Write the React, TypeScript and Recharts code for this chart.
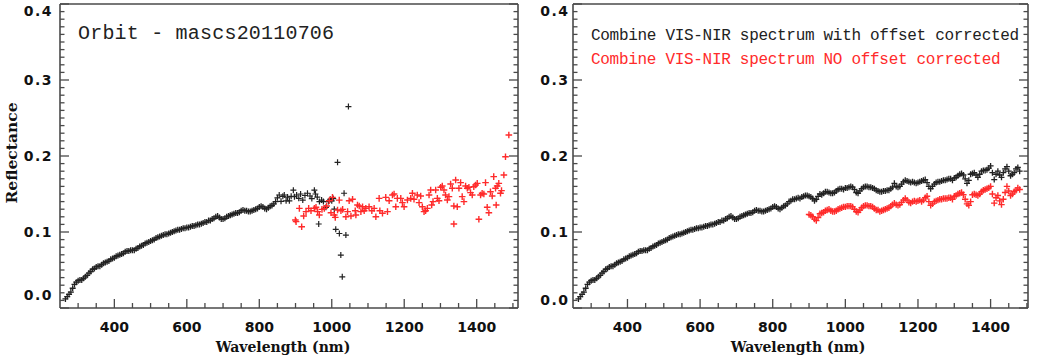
import React from 'react';
import { ScatterChart, Scatter, XAxis, YAxis } from 'recharts';

// ---------- tick values / labels ----------
const X_TICKS = [300, 350, 400, 450, 500, 550, 600, 650, 700, 750, 800, 850, 900, 950, 1000, 1050, 1100, 1150, 1200, 1250, 1300, 1350, 1400, 1450, 1500];
const X_LABELED = [400, 600, 800, 1000, 1200, 1400];
const Y_TICKS = [0, 0.01, 0.02, 0.03, 0.04, 0.05, 0.06, 0.07, 0.08, 0.09, 0.1, 0.11, 0.12, 0.13, 0.14, 0.15, 0.16, 0.17, 0.18, 0.19, 0.2, 0.21, 0.22, 0.23, 0.24, 0.25, 0.26, 0.27, 0.28, 0.29, 0.3, 0.31, 0.32, 0.33, 0.34, 0.35, 0.36, 0.37, 0.38, 0.39, 0.4];
const Y_LABELED = [0, 0.1, 0.2, 0.3, 0.4];
const Y_LABEL_TEXT = ['0.0', '0.1', '0.2', '0.3', '0.4'];

const TITLE_LEFT = 'Orbit - mascs20110706';
const LEGEND_BLACK = 'Combine VIS-NIR spectrum with offset corrected';
const LEGEND_RED = 'Combine VIS-NIR spectrum NO offset corrected';
const X_TITLE = 'Wavelength (nm)';
const Y_TITLE = 'Reflectance';

// ---------- data: [wavelength nm, reflectance] ----------
const visSpectrum: number[][] = [
  [265, 0.012], [270, 0.015], [275, 0.018], [280, 0.021], [285, 0.026], [290, 0.031], [295, 0.034], [300, 0.036],
  [305, 0.037], [310, 0.037], [315, 0.039], [320, 0.041], [325, 0.043], [330, 0.046], [335, 0.048], [340, 0.051],
  [345, 0.052], [350, 0.054], [355, 0.055], [360, 0.055], [365, 0.057], [370, 0.059], [375, 0.06], [380, 0.061],
  [385, 0.062], [390, 0.064], [395, 0.065], [400, 0.066], [405, 0.068], [410, 0.069], [415, 0.07], [420, 0.071],
  [425, 0.072], [430, 0.074], [435, 0.075], [440, 0.075], [445, 0.076], [450, 0.076], [455, 0.076], [460, 0.078],
  [465, 0.079], [470, 0.081], [475, 0.082], [480, 0.083], [485, 0.085], [490, 0.086], [495, 0.087], [500, 0.088],
  [505, 0.089], [510, 0.09], [515, 0.092], [520, 0.093], [525, 0.094], [530, 0.095], [535, 0.096], [540, 0.097],
  [545, 0.097], [550, 0.098], [555, 0.099], [560, 0.1], [565, 0.101], [570, 0.102], [575, 0.103], [580, 0.103],
  [585, 0.104], [590, 0.105], [595, 0.105], [600, 0.106], [605, 0.106], [610, 0.107], [615, 0.108], [620, 0.108],
  [625, 0.109], [630, 0.11], [635, 0.11], [640, 0.111], [645, 0.112], [650, 0.113], [655, 0.113], [660, 0.115],
  [665, 0.115], [670, 0.117], [675, 0.118], [680, 0.12], [685, 0.121], [690, 0.119], [695, 0.117], [700, 0.117],
  [705, 0.118], [710, 0.12], [715, 0.121], [720, 0.122], [725, 0.123], [730, 0.124], [735, 0.125], [740, 0.125],
  [745, 0.126], [750, 0.128], [755, 0.129], [760, 0.128], [765, 0.128], [770, 0.127], [775, 0.127], [780, 0.128],
  [785, 0.129], [790, 0.13], [795, 0.131], [800, 0.133], [805, 0.134], [810, 0.133], [815, 0.131], [820, 0.13],
  [825, 0.132], [830, 0.134], [835, 0.135], [840, 0.137], [845, 0.14],
];

const visTailRaw: number[][] = [
  [850, 0.145], [855, 0.1487], [860, 0.1404], [865, 0.147], [869, 0.1487], [874, 0.141], [878, 0.146], [883, 0.141],
  [888, 0.147], [894, 0.155], [897, 0.1465], [903, 0.1487], [909, 0.1443], [914, 0.15], [920, 0.142], [926, 0.148],
  [933, 0.151], [940, 0.1474], [945, 0.144], [952, 0.155], [955, 0.15], [960, 0.146], [964, 0.1105], [966, 0.14],
  [972, 0.142], [977, 0.14], [984, 0.1325], [991, 0.14], [996, 0.143], [1000, 0.141], [1004, 0.144], [1007, 0.13],
  [1011, 0.1035], [1016, 0.1917], [1021, 0.098], [1025, 0.0697], [1029, 0.041], [1034, 0.151], [1039, 0.096], [1046, 0.265],
];

const nirRaw: number[][] = [
  [899.6, 0.1158], [901.5, 0.1136], [917, 0.107], [910.6, 0.1311], [922.5, 0.121], [929, 0.1268], [936.3, 0.1311], [942.7, 0.128],
  [952, 0.1311], [956.5, 0.1325], [961, 0.1268], [965.7, 0.1224], [973, 0.1298], [979.4, 0.1311], [985.9, 0.1342], [993, 0.1412],
  [1002, 0.1456], [997.8, 0.1254], [1007, 0.1224], [1009.7, 0.1193], [1016, 0.129], [1020.7, 0.142], [1025.3, 0.128], [1030, 0.1298],
  [1039, 0.12], [1043.7, 0.1268], [1048, 0.1412], [1053, 0.121], [1057.4, 0.143], [1064.8, 0.128], [1066.6, 0.1224], [1071, 0.1355],
  [1075.8, 0.1342], [1080.4, 0.1268], [1085, 0.1333], [1089.5, 0.128], [1094, 0.1311], [1103, 0.1333], [1110.6, 0.128], [1117, 0.1311],
  [1121.7, 0.12], [1130.8, 0.1443], [1132.7, 0.128], [1140, 0.1246], [1149, 0.1456], [1153.8, 0.1268], [1158.4, 0.1412], [1167.5, 0.1487],
  [1172, 0.15], [1176.7, 0.1333], [1181, 0.1443], [1190.5, 0.1443], [1195, 0.1386], [1199.6, 0.1333], [1208.8, 0.1421], [1218, 0.1443],
  [1222.6, 0.1509], [1227, 0.143], [1236, 0.1487], [1241, 0.1386], [1245.5, 0.1474], [1250, 0.1333], [1254.7, 0.1268], [1259, 0.128],
  [1263.9, 0.1311], [1268.5, 0.1487], [1273, 0.1553], [1275.8, 0.1355], [1279.5, 0.14], [1286.8, 0.1553], [1291.4, 0.1443], [1296, 0.1412],
  [1300.6, 0.1588], [1305, 0.1605], [1309.7, 0.1553], [1314, 0.1487], [1319, 0.1421], [1323.5, 0.1465], [1328, 0.1632], [1332.7, 0.1575],
  [1337, 0.1342], [1337, 0.1105], [1341.9, 0.1684], [1346.4, 0.1333], [1351, 0.1575], [1355.6, 0.165], [1360, 0.1465], [1364.8, 0.14],
  [1369.4, 0.1605], [1374, 0.1575], [1378.6, 0.1588], [1383, 0.1518], [1387.7, 0.1487], [1392, 0.1596], [1397, 0.1618], [1401.5, 0.164],
  [1406, 0.1167], [1410.7, 0.1487], [1415, 0.1509], [1419.8, 0.15], [1424.4, 0.165], [1429, 0.1325], [1433.6, 0.1254], [1438, 0.153],
  [1442.8, 0.1474], [1447, 0.1728], [1452, 0.1575], [1453.8, 0.1355], [1456.5, 0.1605], [1461, 0.164], [1465.7, 0.1509], [1468.5, 0.1544],
  [1475, 0.175], [1479.5, 0.1991], [1488.7, 0.2276],
];

const nirCorrected: number[][] = [
  [850, 0.141], [855, 0.143], [860, 0.143], [865, 0.144], [870, 0.145], [875, 0.144], [880, 0.146], [885, 0.147],
  [890, 0.148], [895, 0.148], [900, 0.147], [905, 0.146], [910, 0.144], [915, 0.141], [920, 0.143], [925, 0.147],
  [930, 0.15], [935, 0.149], [940, 0.151], [945, 0.153], [950, 0.153], [955, 0.152], [960, 0.151], [965, 0.151],
  [970, 0.152], [975, 0.154], [980, 0.156], [985, 0.157], [990, 0.157], [995, 0.156], [1000, 0.158], [1005, 0.158],
  [1010, 0.159], [1015, 0.16], [1020, 0.159], [1025, 0.156], [1030, 0.152], [1035, 0.151], [1040, 0.154], [1045, 0.157],
  [1050, 0.159], [1055, 0.16], [1060, 0.16], [1065, 0.159], [1070, 0.159], [1075, 0.158], [1080, 0.157], [1085, 0.155],
  [1090, 0.154], [1095, 0.153], [1100, 0.153], [1105, 0.154], [1110, 0.154], [1115, 0.155], [1120, 0.155], [1125, 0.157],
  [1130, 0.159], [1135, 0.164], [1140, 0.16], [1145, 0.159], [1150, 0.16], [1155, 0.163], [1160, 0.166], [1165, 0.168],
  [1170, 0.167], [1175, 0.166], [1180, 0.165], [1185, 0.166], [1190, 0.165], [1195, 0.164], [1200, 0.165], [1205, 0.166],
  [1210, 0.167], [1215, 0.168], [1220, 0.169], [1225, 0.165], [1230, 0.16], [1235, 0.157], [1240, 0.16], [1245, 0.163],
  [1250, 0.165], [1255, 0.166], [1260, 0.166], [1265, 0.167], [1270, 0.168], [1275, 0.168], [1280, 0.169], [1285, 0.17],
  [1290, 0.17], [1295, 0.168], [1300, 0.171], [1305, 0.172], [1310, 0.174], [1315, 0.176], [1320, 0.177], [1325, 0.175],
  [1330, 0.17], [1335, 0.164], [1340, 0.168], [1345, 0.176], [1350, 0.177], [1355, 0.178], [1360, 0.175], [1365, 0.172],
  [1370, 0.176], [1375, 0.18], [1380, 0.181], [1385, 0.181], [1390, 0.182], [1395, 0.184], [1400, 0.187], [1405, 0.178],
  [1410, 0.169], [1415, 0.176], [1420, 0.18], [1425, 0.175], [1430, 0.172], [1435, 0.178], [1440, 0.183], [1445, 0.186],
  [1450, 0.18], [1455, 0.174], [1460, 0.176], [1465, 0.178], [1470, 0.183], [1475, 0.185], [1480, 0.18],
];

const nirUncorrected: number[][] = [
  [900, 0.123], [905, 0.122], [910, 0.12], [915, 0.117], [920, 0.115], [925, 0.119], [930, 0.124], [935, 0.125],
  [940, 0.126], [945, 0.128], [950, 0.129], [955, 0.13], [960, 0.128], [965, 0.127], [970, 0.127], [975, 0.128],
  [980, 0.13], [985, 0.131], [990, 0.132], [995, 0.133], [1000, 0.133], [1005, 0.134], [1010, 0.134], [1015, 0.134],
  [1020, 0.133], [1025, 0.13], [1030, 0.127], [1035, 0.126], [1040, 0.129], [1045, 0.132], [1050, 0.134], [1055, 0.135],
  [1060, 0.135], [1065, 0.134], [1070, 0.134], [1075, 0.133], [1080, 0.131], [1085, 0.129], [1090, 0.129], [1095, 0.127],
  [1100, 0.128], [1105, 0.129], [1110, 0.13], [1115, 0.131], [1120, 0.132], [1125, 0.134], [1130, 0.136], [1135, 0.138],
  [1140, 0.136], [1145, 0.135], [1150, 0.136], [1155, 0.139], [1160, 0.142], [1165, 0.144], [1170, 0.142], [1175, 0.139],
  [1180, 0.138], [1185, 0.14], [1190, 0.141], [1195, 0.14], [1200, 0.141], [1205, 0.142], [1210, 0.14], [1215, 0.142],
  [1220, 0.145], [1225, 0.147], [1230, 0.14], [1235, 0.135], [1240, 0.137], [1245, 0.14], [1250, 0.141], [1255, 0.142],
  [1260, 0.143], [1265, 0.143], [1270, 0.144], [1275, 0.144], [1280, 0.144], [1285, 0.145], [1290, 0.145], [1295, 0.143],
  [1300, 0.147], [1305, 0.148], [1310, 0.15], [1315, 0.151], [1320, 0.152], [1325, 0.149], [1330, 0.143], [1335, 0.137],
  [1340, 0.135], [1345, 0.14], [1350, 0.149], [1355, 0.15], [1360, 0.149], [1365, 0.148], [1370, 0.15], [1375, 0.153],
  [1380, 0.155], [1385, 0.156], [1390, 0.157], [1395, 0.158], [1400, 0.16], [1405, 0.15], [1410, 0.138], [1415, 0.145],
  [1420, 0.148], [1425, 0.141], [1430, 0.136], [1435, 0.143], [1440, 0.152], [1445, 0.16], [1450, 0.154], [1455, 0.148],
  [1460, 0.15], [1465, 0.153], [1470, 0.155], [1475, 0.158], [1480, 0.156],
];

// ---------- styling ----------
const AXIS = '#4a4a4a';
const BLACK = '#222222';
const RED = '#ff2b2b';
const TICK_FONT = '"DejaVu Sans", sans-serif';
const TITLE_FONT = '"DejaVu Serif", serif';
const MONO = '"Liberation Mono", monospace';

const toPts = (arr: number[][]) => arr.map(([w, r]) => ({ w, r }));

const plus = (color: string, arm: number, sw: number) => (props: any) => {
  const { cx, cy } = props;
  if (cx == null || cy == null || isNaN(cx) || isNaN(cy)) return <g />;
  return (
    <path
      d={`M${cx - arm},${cy}H${cx + arm}M${cx},${cy - arm}V${cy + arm}`}
      stroke={color}
      strokeWidth={sw}
      fill="none"
    />
  );
};

const isLabeledX = (v: number) => X_LABELED.indexOf(v) >= 0;
const yLabelIndex = (v: number) => Y_LABELED.findIndex((t) => Math.abs(t - v) < 1e-9);

const BottomTick = (props: any) => {
  const { x, y, payload } = props;
  const major = isLabeledX(payload.value);
  return (
    <g>
      <line x1={x} x2={x} y1={y} y2={y - (major ? 9 : 5)} stroke={AXIS} strokeWidth={1.3} />
      {major && (
        <text x={x} y={y + 24} textAnchor="middle" fontFamily={TICK_FONT} fontWeight="bold" fontSize={14} fill="#111">
          {payload.value}
        </text>
      )}
    </g>
  );
};

const TopTick = (props: any) => {
  const { x, y, payload } = props;
  const major = isLabeledX(payload.value);
  return <line x1={x} x2={x} y1={y} y2={y + (major ? 9 : 5)} stroke={AXIS} strokeWidth={1.3} />;
};

const makeLeftTick = (gap: number, topShift: number, bottomShift: number) => (props: any) => {
  const { x, y, payload } = props;
  const idx = yLabelIndex(payload.value);
  const major = idx >= 0;
  let dy = 0;
  if (idx === 0) dy = bottomShift;
  if (idx === Y_LABELED.length - 1) dy = topShift;
  return (
    <g>
      <line x1={x} x2={x + (major ? 9 : 4.5)} y1={y} y2={y} stroke={AXIS} strokeWidth={1.3} />
      {major && (
        <text
          x={x - gap}
          y={y + dy + 5}
          textAnchor="end"
          fontFamily={TICK_FONT}
          fontWeight="bold"
          fontSize={14}
          letterSpacing={1.5}
          fill="#111"
        >
          {Y_LABEL_TEXT[idx]}
        </text>
      )}
    </g>
  );
};

const RightTick = (props: any) => {
  const { x, y, payload } = props;
  const major = yLabelIndex(payload.value) >= 0;
  return <line x1={x} x2={x - (major ? 9 : 4.5)} y1={y} y2={y} stroke={AXIS} strokeWidth={1.3} />;
};

interface PanelProps {
  width: number;
  margin: { top: number; right: number; bottom: number; left: number };
  yAxisWidth: number;
  xMax: number;
  labelGap: number;
  topShift: number;
  bottomShift: number;
  series: { data: { w: number; r: number }[]; color: string; arm: number; sw: number; name: string }[];
}

const Panel = (p: PanelProps) => (
  <ScatterChart width={p.width} height={358} margin={p.margin}>
    <XAxis
      xAxisId="b"
      dataKey="w"
      type="number"
      domain={[250, p.xMax]}
      allowDataOverflow
      ticks={X_TICKS}
      interval={0}
      tickSize={0}
      tickMargin={0}
      tickLine={false}
      tick={<BottomTick />}
      axisLine={{ stroke: AXIS, strokeWidth: 1.6 }}
      height={40}
    />
    <XAxis
      xAxisId="t"
      orientation="top"
      type="number"
      domain={[250, p.xMax]}
      allowDataOverflow
      ticks={X_TICKS}
      interval={0}
      tickSize={0}
      tickMargin={0}
      tickLine={false}
      tick={<TopTick />}
      axisLine={{ stroke: AXIS, strokeWidth: 1.6 }}
      height={1}
    />
    <YAxis
      yAxisId="l"
      dataKey="r"
      type="number"
      domain={[0, 0.4]}
      allowDataOverflow
      ticks={Y_TICKS}
      interval={0}
      tickSize={0}
      tickMargin={0}
      tickLine={false}
      tick={makeLeftTick(p.labelGap, p.topShift, p.bottomShift)}
      axisLine={{ stroke: AXIS, strokeWidth: 1.6 }}
      width={p.yAxisWidth}
    />
    <YAxis
      yAxisId="r"
      orientation="right"
      type="number"
      domain={[0, 0.4]}
      allowDataOverflow
      ticks={Y_TICKS}
      interval={0}
      tickSize={0}
      tickMargin={0}
      tickLine={false}
      tick={<RightTick />}
      axisLine={{ stroke: AXIS, strokeWidth: 1.6 }}
      width={1}
    />
    {p.series.map((s) => (
      <Scatter
        key={s.name}
        name={s.name}
        xAxisId="b"
        yAxisId="l"
        data={s.data}
        shape={plus(s.color, s.arm, s.sw)}
        isAnimationActive={false}
      />
    ))}
  </ScatterChart>
);

const textDiv = (extra: React.CSSProperties): React.CSSProperties => ({
  position: 'absolute',
  whiteSpace: 'pre',
  ...extra,
});

export default function App() {
  const leftSeries = [
    { name: 'vis', data: toPts(visSpectrum), color: BLACK, arm: 3, sw: 1.3 },
    { name: 'visTail', data: toPts(visTailRaw), color: BLACK, arm: 3, sw: 1.2 },
    { name: 'nir', data: toPts(nirRaw), color: RED, arm: 3.3, sw: 1.4 },
  ];
  const rightSeries = [
    { name: 'vis', data: toPts(visSpectrum), color: BLACK, arm: 3, sw: 1.3 },
    { name: 'nirCorr', data: toPts(nirCorrected), color: BLACK, arm: 3, sw: 1.3 },
    { name: 'nirUncorr', data: toPts(nirUncorrected), color: RED, arm: 3.2, sw: 1.4 },
  ];
  return (
    <div style={{ position: 'absolute', left: 0, top: 0, width: 1041, height: 358, background: '#fff', overflow: 'hidden' }}>
      <div style={{ position: 'absolute', left: 0, top: 0 }}>
        <Panel
          width={525}
          margin={{ top: 3, right: 6, bottom: 10, left: 10 }}
          yAxisWidth={50}
          xMax={1514}
          labelGap={7}
          topShift={6.5}
          bottomShift={-13}
          series={leftSeries}
        />
      </div>
      <div style={{ position: 'absolute', left: 525, top: 0 }}>
        <Panel
          width={516}
          margin={{ top: 3, right: 12, bottom: 10, left: 8 }}
          yAxisWidth={40}
          xMax={1503}
          labelGap={3.5}
          topShift={7}
          bottomShift={-8}
          series={rightSeries}
        />
      </div>
      {/* axis titles */}
      <div style={textDiv({ left: 183, width: 200, top: 338, textAlign: 'center', fontFamily: TITLE_FONT, fontWeight: 'bold', fontSize: 14, lineHeight: '18px', color: '#111' })}>
        {X_TITLE}
      </div>
      <div style={textDiv({ left: 698, width: 200, top: 338, textAlign: 'center', fontFamily: TITLE_FONT, fontWeight: 'bold', fontSize: 14, lineHeight: '18px', color: '#111' })}>
        {X_TITLE}
      </div>
      <div style={textDiv({ left: 12 - 60, top: 153 - 10, width: 120, textAlign: 'center', transform: 'rotate(-90deg)', transformOrigin: '60px 10px', fontFamily: TITLE_FONT, fontWeight: 'bold', fontSize: 15.5, lineHeight: '20px', color: '#111' })}>
        {Y_TITLE}
      </div>
      {/* panel annotations */}
      <div style={textDiv({ left: 78, top: 22, fontFamily: MONO, fontSize: 20, letterSpacing: 0.2, color: '#222', lineHeight: '24px' })}>
        {TITLE_LEFT}
      </div>
      <div style={textDiv({ left: 591, top: 26, fontFamily: MONO, fontSize: 16, letterSpacing: -0.3, color: '#222', lineHeight: '20px' })}>
        {LEGEND_BLACK}
      </div>
      <div style={textDiv({ left: 591, top: 49.5, fontFamily: MONO, fontSize: 16, letterSpacing: -0.3, color: RED, lineHeight: '20px' })}>
        {LEGEND_RED}
      </div>
    </div>
  );
}
